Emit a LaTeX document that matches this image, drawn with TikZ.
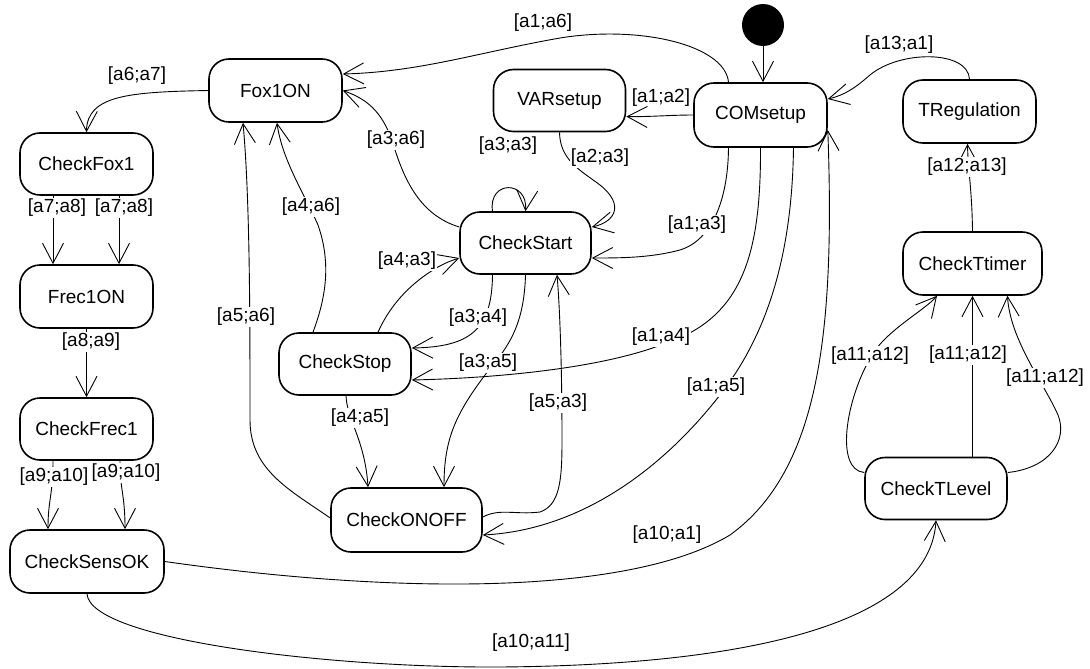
\documentclass[tikz,border=0pt]{standalone}
\usepackage{fontspec}
\setmainfont{Liberation Sans}
\usetikzlibrary{arrows.meta,calc}
\begin{document}
\begin{tikzpicture}[x=1pt,y=-1pt,
  state/.style={draw,line width=1.6pt,rounded corners=20pt,minimum width=133pt,
    minimum height=63pt,inner sep=0pt,font=\fontsize{19}{22}\selectfont},
  lbl/.style={fill=white,inner sep=1pt,font=\fontsize{19}{22}\selectfont},
  lbn/.style={inner sep=1pt,font=\fontsize{19}{22}\selectfont},
  tr/.style={line width=0.9pt,-{Straight Barb[length=20pt,width=21pt]}},
]
\useasboundingbox (0,0) rectangle (1090,669);

% states
\node[state] (Fox) at (275.5,90.5) {Fox1ON};
\node[state,minimum height=62pt] (CF1) at (86.5,164) {CheckFox1};
\node[state] (Frec) at (86.5,296.5) {Frec1ON};
\node[state,minimum height=62pt] (CFr) at (86.5,429) {CheckFrec1};
\node[state,minimum width=154pt] (Sens) at (87,561.5) {CheckSensOK};
\node[state,minimum width=132pt,minimum height=62pt] (VAR) at (559.5,100.5) {VARsetup};
\node[state,minimum height=64pt] (COM) at (760.5,115) {COMsetup};
\node[state] (TReg) at (969.5,111.5) {TRegulation};
\node[state,minimum width=139pt] (CTT) at (972.5,263.5) {CheckTtimer};
\node[state,minimum width=142pt,minimum height=62pt] (CTL) at (936,488.5) {CheckTLevel};
\node[state,minimum width=131pt,minimum height=62pt] (CS) at (525.5,243) {CheckStart};
\node[state,minimum width=132pt,minimum height=62pt] (CSt) at (345,364) {CheckStop};
\node[state,minimum width=151pt,minimum height=64pt] (ONOFF) at (406.5,520) {CheckONOFF};
\node[circle,fill=black,minimum size=42pt,inner sep=0pt] (init) at (763,25) {};

% transitions around COMsetup
\draw[tr] (init.south) -- (init.south |- COM.north);
\draw[tr] (COM.west) .. controls (670,115) and (650,117) .. ([yshift=-16pt]VAR.east);
\draw[tr] ([xshift=-32pt]COM.north) .. controls (725,45) and (640,25) .. (560,38)
  .. controls (480,52) and (420,72) .. ([yshift=16.5pt]Fox.east);
\draw[tr] (VAR.south) .. controls (560,160) and (580,170) .. (600,185)
  .. controls (625,205) and (615,222) .. ([yshift=16pt]CS.east);
\draw[tr] ([xshift=-32pt]COM.south) .. controls (728,200) and (712,240) .. (680,250)
  .. controls (650,258) and (620,258) .. ([yshift=-15pt]CS.east);
\draw[tr] (COM.south) .. controls (761,260) and (740,320) .. (661,345)
  .. controls (600,368) and (500,378) .. ([yshift=-16pt]CSt.east);
\draw[tr] ([xshift=33pt]COM.south) .. controls (792,260) and (765,340) .. (716,400)
  .. controls (660,470) and (580,530) .. ([yshift=-15pt]ONOFF.east);
\draw[tr] (Sens.east) .. controls (400,595) and (630,595) .. (730,535)
  .. controls (820,470) and (835,330) .. ([yshift=-15pt]COM.east);
\draw[tr] (Sens.south) .. controls (90,640) and (330,668) .. (500,667)
  .. controls (760,665) and (930,620) .. (CTL.south);
\draw[tr] (TReg.north) .. controls (968,50) and (900,50) .. (870,75)
  .. controls (855,88) and (845,95) .. ([yshift=16pt]COM.east);

% temperature loop
\draw[tr] (CTT.north) .. controls (972,190) and (968,170) .. ([xshift=-2pt]TReg.south);
\draw[tr] ([yshift=16pt]CTL.west) .. controls (835,470) and (845,400) .. (872,355)
  .. controls (887,330) and (925,310) .. ([xshift=-35.5pt]CTT.south);
\draw[tr] ([xshift=36.5pt]CTL.north) -- (CTT.south);
\draw[tr] ([yshift=16pt]CTL.east) .. controls (1050,468) and (1068,440) .. (1058,415)
  .. controls (1045,385) and (1010,340) .. ([xshift=35pt]CTT.south);

% left column
\draw[tr] (Fox.west) .. controls (130,92) and (87,95) .. (CF1.north);
\draw[tr] ([xshift=-33.5pt]CF1.south) -- ([xshift=-33.5pt]Frec.north);
\draw[tr] ([xshift=32.5pt]CF1.south) -- ([xshift=32.5pt]Frec.north);
\draw[tr] (Frec.south) -- (CFr.north);
\draw[tr] ([xshift=-33.5pt]CFr.south) .. controls (53,495) and (48,500) .. ([xshift=-39pt]Sens.north);
\draw[tr] ([xshift=33.5pt]CFr.south) .. controls (120,490) and (125,495) .. ([xshift=38pt]Sens.north);

% start / stop / on-off block
\draw[tr] ([yshift=16pt]CS.west) .. controls (420,215) and (405,180) .. (395,150)
  .. controls (385,115) and (370,100) .. (Fox.east);
\draw[tr] ([xshift=-32pt]CSt.north) .. controls (325,300) and (332,265) .. (318,225)
  .. controls (305,195) and (282,160) .. ([xshift=1.5pt]Fox.south);
\draw[tr] ([yshift=2pt]ONOFF.west) .. controls (290,490) and (250,470) .. (250,420)
  .. controls (250,320) and (250,200) .. ([xshift=-32.5pt]Fox.south);
\draw[tr] ([xshift=33pt]CSt.north) .. controls (390,305) and (410,285) .. (430,272)
  .. controls (440,265) and (450,261) .. ([yshift=-15pt]CS.west);
\draw[tr] ([xshift=-33pt]CS.south) .. controls (492,330) and (470,347) .. ([yshift=16pt]CSt.east);
\draw[tr] (CS.south) .. controls (524,330) and (505,350) .. (485,375)
  .. controls (455,415) and (444,440) .. ([xshift=37.5pt]ONOFF.north);
\draw[tr] ([xshift=1pt]CSt.south) .. controls (347,420) and (365,440) .. ([xshift=-38.5pt]ONOFF.north);
\draw[tr] ([yshift=3pt]ONOFF.east) .. controls (500,508) and (515,515) .. (540,512)
  .. controls (560,505) and (562,480) .. (562,440)
  .. controls (562,370) and (560,310) .. ([xshift=31.5pt]CS.south);
\draw[tr] ([xshift=-33pt]CS.north) .. controls (488,180) and (528,180) .. (CS.north);

% guards
\node[lbn] (g1) at (543,23) {[a1;a6]};
\node[lbn] (g2) at (661,98) {[a1;a2]};
\node[lbn] (g3) at (508,146) {[a3;a3]};
\node[lbn] (g4) at (137,76) {[a6;a7]};
\node[lbn] (g5) at (899,45) {[a13;a1]};
\node[lbn] (g6) at (667,535) {[a10;a1]};
\node[lbn] (g7) at (531,643) {[a10;a11]};
\node[lbl] (g8) at (600,158) {[a2;a3]};
\node[lbl] (g9) at (396,140) {[a3;a6]};
\node[lbl] (g10) at (697,225) {[a1;a3]};
\node[lbl] (g11) at (407,261) {[a4;a3]};
\node[lbl] (g12) at (478,318) {[a3;a4]};
\node[lbl] (g13) at (661,337) {[a1;a4]};
\node[lbl] (g14) at (488,363) {[a3;a5]};
\node[lbl] (g15) at (716,387) {[a1;a5]};
\node[lbl] (g16) at (558,403) {[a5;a3]};
\node[lbl] (g17) at (360,418) {[a4;a5]};
\node[lbl] (g18) at (311,207) {[a4;a6]};
\node[lbl] (g19) at (246,317) {[a5;a6]};
\node[lbl] (g20) at (57,208) {[a7;a8]};
\node[lbl] (g21) at (124,208) {[a7;a8]};
\node[lbl] (g22) at (91,342) {[a8;a9]};
\node[lbl] (g23) at (54,477) {[a9;a10]};
\node[lbl] (g24) at (126,473) {[a9;a10]};
\node[lbl] (g25) at (967,167) {[a12;a13]};
\node[lbl] (g26) at (870,356) {[a11;a12]};
\node[lbl] (g27) at (968,355) {[a11;a12]};
\node[lbl] (g28) at (1045,378) {[a11;a12]};
\end{tikzpicture}
\end{document}
